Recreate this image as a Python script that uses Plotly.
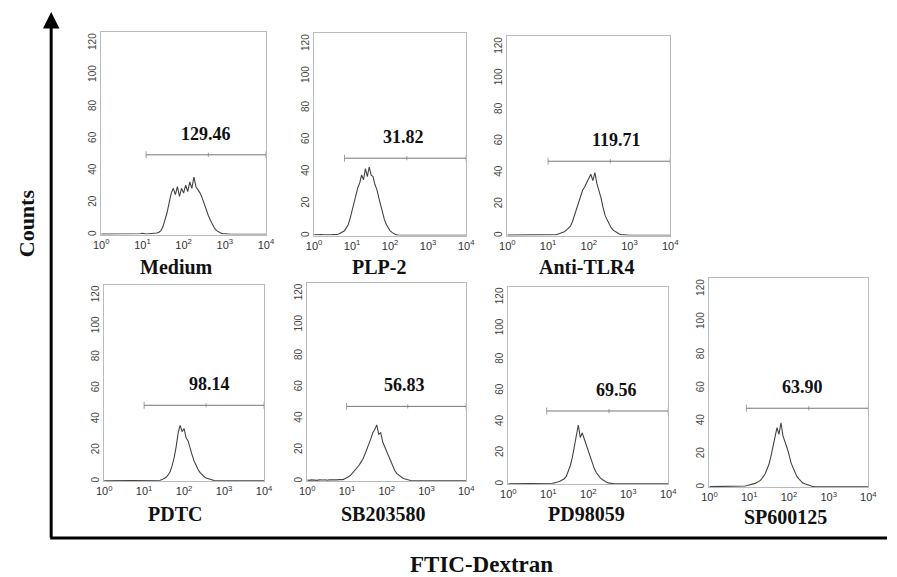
import plotly.graph_objects as go

W, H = 897, 577

# ---------------- data ----------------
panel_names = ["Medium", "PLP-2", "Anti-TLR4", "PDTC", "SB203580", "PD98059", "SP600125"]
gate_labels = ["129.46", "31.82", "119.71", "98.14", "56.83", "69.56", "63.90"]

# fluorescence channel, log10 position (10^0 .. 10^4)
exponents = [
    0.00, 0.05, 0.10, 0.15, 0.20, 0.25, 0.30, 0.35, 0.40, 0.45,
    0.50, 0.55, 0.60, 0.65, 0.70, 0.75, 0.80, 0.85, 0.90, 0.95,
    1.00, 1.05, 1.10, 1.15, 1.20, 1.25, 1.30, 1.35, 1.40, 1.45,
    1.50, 1.55, 1.60, 1.65, 1.70, 1.75, 1.80, 1.85, 1.90, 1.95,
    2.00, 2.05, 2.10, 2.15, 2.20, 2.25, 2.30, 2.35, 2.40, 2.45,
    2.50, 2.55, 2.60, 2.65, 2.70, 2.75, 2.80, 2.85, 2.90, 2.95,
    3.00, 3.05, 3.10, 3.15, 3.20, 3.25, 3.30, 3.35, 3.40, 3.45,
    3.50, 3.55, 3.60, 3.65, 3.70, 3.75, 3.80, 3.85, 3.90, 3.95,
    4.00,
]

counts_medium = [
    0.3, 0.3, 0.2, 0.3, 0.2, 0.3, 0.2, 0.3, 0.2, 0.3,
    0.3, 0.2, 0.3, 0.3, 0.2, 0.3, 0.3, 0.4, 0.3, 0.5,
    0.8, 0.5, 0.4, 0.5, 0.6, 0.8, 0.5, 1.0, 1.5, 2.5,
    5, 9, 14, 20, 26, 29, 25, 30, 24, 29,
    26, 31, 27, 33, 29, 36, 30, 28, 26, 23,
    19, 15, 12, 9, 6, 4, 2.5, 1.5, 1.0, 0.6,
    0.4, 0.3, 0.3, 0.2, 0.2, 0.2, 0.2, 0.2, 0.2, 0.2,
    0.2, 0.2, 0.2, 0.2, 0.2, 0.2, 0.2, 0.2, 0.2, 0.2,
    0.2,
]
counts_plp2 = [
    0.5, 0.6, 0.4, 0.5, 0.6, 0.5, 0.4, 0.6, 0.5, 0.5,
    0.6, 0.5, 0.7, 1.0, 1.5, 2.0, 3.0, 5.0, 7.0, 11,
    16, 21, 25, 30, 33, 38, 35, 42, 37, 43,
    38, 37, 32, 29, 24, 19, 14, 10, 7, 4.5,
    3.0, 2.0, 1.0, 0.6, 0.3, 0.2, 0.2, 0.2, 0.2, 0.2,
    0.2, 0.2, 0.2, 0.2, 0.2, 0.2, 0.2, 0.2, 0.2, 0.2,
    0.2, 0.2, 0.2, 0.2, 0.2, 0.2, 0.2, 0.2, 0.2, 0.2,
    0.2, 0.2, 0.2, 0.2, 0.2, 0.2, 0.2, 0.2, 0.2, 0.2,
    0.2,
]
counts_anti_tlr4 = [
    0.3, 0.3, 0.3, 0.3, 0.3, 0.3, 0.3, 0.3, 0.3, 0.3,
    0.3, 0.3, 0.3, 0.3, 0.3, 0.3, 0.3, 0.3, 0.3, 0.3,
    0.3, 0.4, 0.4, 0.5, 0.6, 1.0, 1.5, 2.0, 2.5, 3.5,
    4.5, 6, 9, 13, 18, 22, 26, 29, 31, 34,
    36, 39, 35, 40, 33, 29, 24, 18, 13, 10,
    7, 5, 3.5, 2.5, 1.5, 1.0, 0.6, 0.4, 0.3, 0.3,
    0.2, 0.2, 0.2, 0.2, 0.2, 0.2, 0.2, 0.2, 0.2, 0.2,
    0.2, 0.2, 0.2, 0.2, 0.2, 0.2, 0.2, 0.2, 0.2, 0.2,
    0.2,
]
counts_pdtc = [
    0.3, 0.3, 0.3, 0.3, 0.3, 0.3, 0.3, 0.3, 0.3, 0.3,
    0.3, 0.3, 0.3, 0.3, 0.3, 0.3, 0.3, 0.3, 0.3, 0.3,
    0.3, 0.4, 0.3, 0.4, 0.5, 0.4, 0.5, 0.5, 0.6, 1.0,
    1.5, 2.5, 4, 6, 10, 15, 22, 31, 36, 32,
    34, 28, 26, 21, 17, 13, 10, 7.5, 5.5, 4,
    3.0, 2.0, 1.5, 1.0, 0.6, 0.4, 0.3, 0.3, 0.2, 0.2,
    0.2, 0.2, 0.2, 0.2, 0.2, 0.2, 0.2, 0.2, 0.2, 0.2,
    0.2, 0.2, 0.2, 0.2, 0.2, 0.2, 0.2, 0.2, 0.2, 0.2,
    0.2,
]
counts_sb203580 = [
    0.7, 0.5, 0.8, 0.6, 0.7, 0.5, 0.8, 0.6, 0.7, 0.9,
    0.6, 0.8, 0.7, 0.9, 0.6, 0.8, 1.0, 0.8, 1.0, 1.5,
    2, 3, 4, 5.5, 7, 8, 10, 12, 14, 17,
    20, 24, 27, 31, 33, 36, 30, 31, 25, 22,
    19, 15, 13, 9, 7, 5, 4, 2.5, 2.0, 1.5,
    1.0, 0.7, 0.4, 0.3, 0.3, 0.2, 0.2, 0.2, 0.2, 0.2,
    0.2, 0.2, 0.2, 0.2, 0.2, 0.2, 0.2, 0.2, 0.2, 0.2,
    0.2, 0.2, 0.2, 0.2, 0.2, 0.2, 0.2, 0.2, 0.2, 0.2,
    0.2,
]
counts_pd98059 = [
    0.3, 0.3, 0.3, 0.3, 0.3, 0.3, 0.3, 0.3, 0.3, 0.3,
    0.3, 0.3, 0.3, 0.3, 0.3, 0.3, 0.3, 0.3, 0.3, 0.3,
    0.4, 0.5, 0.6, 0.8, 1.0, 1.5, 2.0, 2.5, 3.5, 5,
    8, 12, 17, 24, 32, 38, 30, 33, 29, 25,
    21, 17, 14, 10, 7.5, 5.5, 4, 3, 2, 1.3,
    0.8, 0.5, 0.4, 0.3, 0.3, 0.2, 0.2, 0.2, 0.2, 0.2,
    0.2, 0.2, 0.2, 0.2, 0.2, 0.2, 0.2, 0.2, 0.2, 0.2,
    0.2, 0.2, 0.2, 0.2, 0.2, 0.2, 0.2, 0.2, 0.2, 0.2,
    0.2,
]
counts_sp600125 = [
    0.3, 0.3, 0.3, 0.3, 0.3, 0.3, 0.3, 0.3, 0.3, 0.3,
    0.3, 0.4, 0.3, 0.4, 0.5, 0.4, 0.5, 0.6, 0.7, 1.0,
    1.2, 1.5, 2.0, 2.3, 2.8, 3.5, 4.5, 6, 8, 11,
    14, 19, 25, 31, 36, 32, 39, 31, 28, 24,
    20, 15, 12, 9, 6.5, 5, 3.5, 2.5, 2.0, 1.5,
    1.0, 0.7, 0.4, 0.3, 0.3, 0.2, 0.2, 0.2, 0.2, 0.2,
    0.2, 0.2, 0.2, 0.2, 0.2, 0.2, 0.2, 0.2, 0.2, 0.2,
    0.2, 0.2, 0.2, 0.2, 0.2, 0.2, 0.2, 0.2, 0.2, 0.2,
    0.2,
]
all_counts = [counts_medium, counts_plp2, counts_anti_tlr4, counts_pdtc,
              counts_sb203580, counts_pd98059, counts_sp600125]

# marker gate (M1): start exponent, mid-mark exponent, level
gate_start = [1.09, 0.80, 1.00, 1.00, 0.99, 0.96, 0.93]
gate_mid = [2.60, 2.44, 2.53, 2.55, 2.53, 2.52, 2.50]
gate_level = [50.0, 48.5, 47.3, 49.0, 47.8, 47.0, 47.8]
label_exp = [2.54, 2.36, 2.67, 2.63, 2.45, 2.70, 2.35]

x_tick_vals = [1, 10, 100, 1000, 10000]
x_tick_text = ["10<sup>0</sup>", "10<sup>1</sup>", "10<sup>2</sup>", "10<sup>3</sup>", "10<sup>4</sup>"]
y_tick_vals = [0, 20, 40, 60, 80, 100, 120]

# ---------------- layout geometry (pixels) ----------------
boxes = [(95, 263, 32, 235), (312, 467, 33, 236), (509, 675, 36, 236),
         (98, 261, 285, 482), (305, 467, 283, 482), (510, 673, 287, 485),
         (715, 877, 278, 488)]
name_pos = [(172, 267), (378, 267), (590, 267), (170, 515), (382, 515), (590, 515), (793, 518)]

SERIF = "Liberation Serif, Times New Roman, serif"
SANS = "Liberation Sans, Arial, sans-serif"

fig = go.Figure()
layout = dict(
    width=W, height=H, margin=dict(l=0, r=0, t=0, b=0),
    paper_bgcolor="white", plot_bgcolor="white", showlegend=False,
)

annotations = []
for k in range(7):
    sx = "" if k == 0 else str(k + 1)
    xa, ya = "x" + sx, "y" + sx
    x0, x1, y0, y1 = boxes[k]
    xdom = [x0 / W, x1 / W]
    ydom = [1 - y1 / H, 1 - y0 / H]
    xs = [10 ** e for e in exponents]
    fig.add_trace(go.Scatter(
        x=xs, y=all_counts[k], mode="lines", xaxis=xa, yaxis=ya,
        line=dict(color="#444", width=1.1), hoverinfo="skip"))
    gx = [10 ** gate_start[k], 10 ** gate_mid[k], 10 ** 4]
    fig.add_trace(go.Scatter(
        x=gx, y=[gate_level[k]] * 3, mode="lines+markers", xaxis=xa, yaxis=ya,
        line=dict(color="#777", width=1), cliponaxis=False,
        marker=dict(symbol="line-ns", size=[5, 3, 5], color="#777",
                    line=dict(width=1, color="#777")),
        hoverinfo="skip"))
    axis_common = dict(showline=True, mirror=True, linecolor="#bbb", linewidth=1,
                       showgrid=False, zeroline=False, ticks="", fixedrange=True)
    layout["xaxis" + sx] = dict(
        domain=xdom, anchor=ya, type="log", range=[0, 4],
        tickvals=x_tick_vals, ticktext=x_tick_text,
        tickfont=dict(family=SANS, size=11, color="#333"), **axis_common)
    layout["yaxis" + sx] = dict(
        domain=ydom, anchor=xa, range=[0, 127], tickvals=y_tick_vals,
        tickangle=-90, tickfont=dict(family=SANS, size=10, color="#444"), **axis_common)
    annotations.append(dict(
        xref=xa, yref=ya, x=label_exp[k], y=gate_level[k], text="<b>%s</b>" % gate_labels[k],
        showarrow=False, xanchor="center", yanchor="bottom", yshift=9,
        font=dict(family=SERIF, size=18, color="#111")))
    nx, ny = name_pos[k]
    annotations.append(dict(
        xref="paper", yref="paper", x=nx / W, y=1 - ny / H, text="<b>%s</b>" % panel_names[k],
        showarrow=False, xanchor="center", yanchor="middle",
        font=dict(family=SERIF, size=20, color="#111")))

# overall axis arrows and titles
annotations.append(dict(
    xref="paper", yref="paper", x=44 / W, y=1 - 12 / H, ax=0, ay=527,
    axref="pixel", ayref="pixel", showarrow=True, arrowhead=2, arrowsize=1.1,
    arrowwidth=3, arrowcolor="#000", text=""))
annotations.append(dict(
    xref="paper", yref="paper", x=19 / W, y=1 - 224 / H, text="<b>Counts</b>",
    textangle=-90, showarrow=False, xanchor="center", yanchor="middle",
    font=dict(family=SERIF, size=22, color="#111")))
annotations.append(dict(
    xref="paper", yref="paper", x=483 / W, y=1 - 565 / H, text="<b>FTIC-Dextran</b>",
    showarrow=False, xanchor="center", yanchor="middle",
    font=dict(family=SERIF, size=23, color="#111")))

layout["annotations"] = annotations
layout["shapes"] = [dict(type="line", xref="paper", yref="paper",
                         x0=43 / W, x1=896 / W, y0=1 - 539 / H, y1=1 - 539 / H,
                         line=dict(color="#000", width=3))]
fig.update_layout(**layout)
fig.write_html("out.html")
